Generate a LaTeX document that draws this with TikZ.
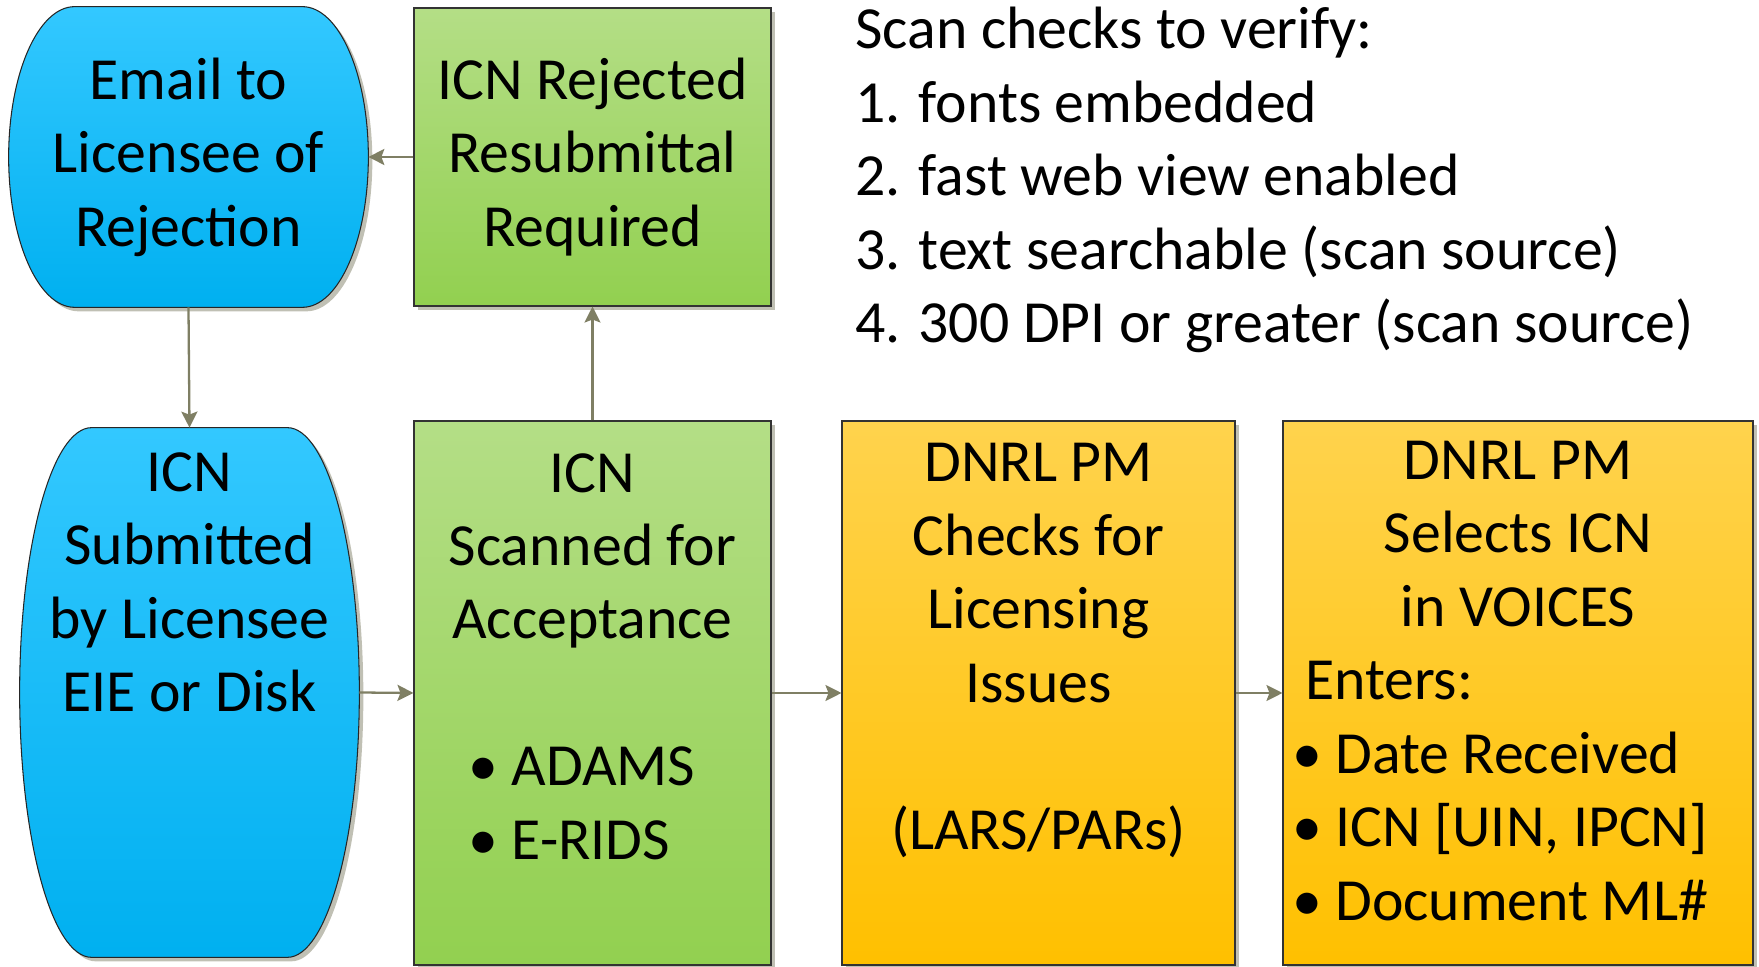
\documentclass[tikz,border=0pt]{standalone}
\usepackage{fontspec}
\setmainfont{Carlito}
\usetikzlibrary{arrows.meta,shadows,calc,backgrounds}
\definecolor{bluetop}{RGB}{51,200,255}
\definecolor{bluebot}{RGB}{0,176,240}
\definecolor{greentop}{RGB}{180,222,134}
\definecolor{greenbot}{RGB}{146,208,80}
\definecolor{orangetop}{RGB}{255,211,77}
\definecolor{orangebot}{RGB}{255,192,0}
\definecolor{linkgray}{RGB}{127,127,100}
\definecolor{shadowgray}{RGB}{192,192,180}
\newcommand{\mainsize}{\fontsize{34pt}{41.8pt}\selectfont}
\tikzstyle{arrow} = [line width=1.3pt,draw=linkgray,->,>={Stealth[length=3.2mm,width=3.2mm,inset=0.6mm]}]

% capsule outline round a named node, #2 = width of the curved ends
\newcommand{\drawcapsule}[2]{%
  \path[capsulefill] let \p1=(#1.north west), \p2=(#1.south east), \n1={(\y1-\y2)/2} in
    (\x1+#2,\y1) -- (\x2-#2,\y1) arc[start angle=90,end angle=-90,x radius=#2,y radius=\n1]
    -- (\x1+#2,\y2) arc[start angle=270,end angle=90,x radius=#2,y radius=\n1] -- cycle;
}

\begin{document}
\begin{tikzpicture}
        [
            box/.style={rectangle,draw=black!80,line width=0.6pt,align=center,font=\mainsize,inner sep=0pt,
                drop shadow={shadow xshift=0.08cm,shadow yshift=-0.08cm,fill=shadowgray,opacity=1}},
            greenbox/.style={box,top color=greentop,bottom color=greenbot},
            orangebox/.style={box,top color=orangetop,bottom color=orangebot},
            capsule/.style={rectangle,align=center,font=\mainsize,inner sep=0pt},
            capsulefill/.style={draw=black!85,line width=0.6pt,top color=bluetop,bottom color=bluebot,
                preaction={fill=shadowgray,transform canvas={xshift=0.08cm,yshift=-0.08cm}}},
        ]
    \useasboundingbox (0,0) rectangle (35.18,19.34);

    % top row
    \node[capsule,minimum width=7.18cm,minimum height=6cm] (email) at (3.77,16.2)
        {Email to\\Licensee of\\Rejection};
    \node[greenbox,minimum width=7.14cm,minimum height=5.96cm] (rejected) at (11.85,16.2)
        {ICN Rejected\\Resubmittal\\Required};

    % bottom row
    \node[capsule,minimum width=6.78cm,minimum height=10.58cm] (submitted) at (3.79,5.49)
        {ICN\\Submitted\\by Licensee\\EIE or Disk\\\mbox{}\\\mbox{}\\\mbox{}};
    \node[greenbox,minimum width=7.14cm,minimum height=10.88cm] (scanned) at (11.85,5.48)
        {ICN\\Scanned for\\Acceptance\\\mbox{}\\
         \makebox[4.96cm][l]{• ADAMS}\\\makebox[4.96cm][l]{• E-RIDS}\\\mbox{}};
    \node[orangebox,minimum width=7.86cm,minimum height=10.88cm] (checks) at (20.77,5.48)
        {DNRL PM\\Checks for\\Licensing\\Issues\\\mbox{}\\(LARS/PARs)\\[0.4cm]\mbox{}};
    \node[orangebox,minimum width=9.4cm,minimum height=10.88cm] (selects) at (30.36,5.48)
        {DNRL PM\\Selects ICN\\in VOICES\\
         \makebox[9.04cm][l]{\hspace{0.26cm}Enters:}\\
         \makebox[9.04cm][l]{• Date Received}\\
         \makebox[9.04cm][l]{• ICN [UIN, IPCN]}\\
         \makebox[9.04cm][l]{• Document ML\#}\\[-0.97cm]\mbox{}};

    % notes
    \node[anchor=north west,align=left,font=\mainsize,inner sep=0pt] (notes) at (17.1,19.2)
        {Scan checks to verify:\\1. fonts embedded\\2. fast web view enabled\\
         3. text searchable (scan source)\\4. 300 DPI or greater (scan source)};

    \begin{pgfonlayer}{background}
        \drawcapsule{email}{1.32cm}
        \drawcapsule{submitted}{1.44cm}
    \end{pgfonlayer}

    \draw[arrow] (rejected.west) -- (email.east);
    \draw[arrow] (email.south) -- (submitted.north);
    \draw[arrow] (submitted.east) -- (scanned.west);
    \draw[arrow] (scanned.north) -- (rejected.south);
    \draw[arrow] (scanned.east) -- (checks.west);
    \draw[arrow] (checks.east) -- (selects.west);
\end{tikzpicture}
\end{document}
